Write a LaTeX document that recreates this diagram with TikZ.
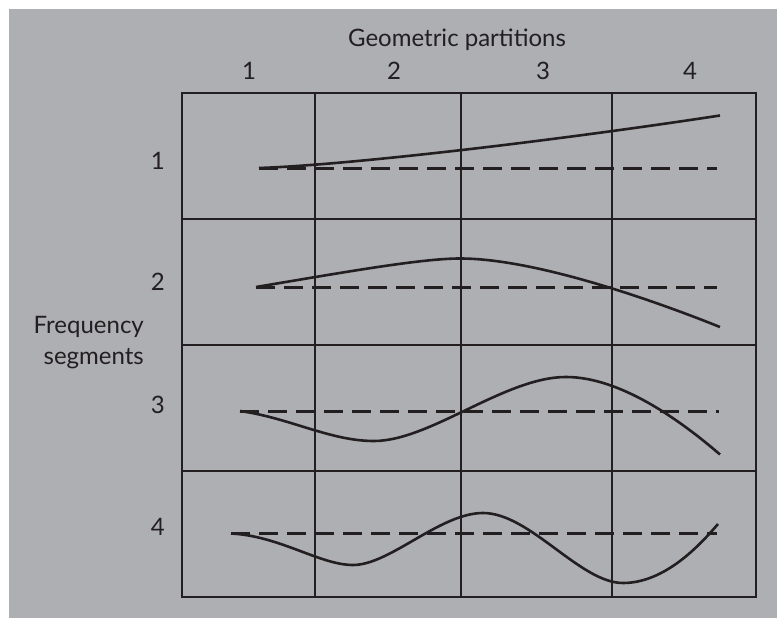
\documentclass[tikz,border=0pt]{standalone}
\usepackage{fontspec}
\setmainfont{Lato}
\usepackage{xcolor}
\usepackage{tikz}
\definecolor{panelgray}{RGB}{174,175,179}
\definecolor{ink}{RGB}{35,31,32}

\begin{document}
\begin{tikzpicture}[
x=1pt, y=-1pt,
lbl/.style={text=ink, inner sep=0pt, font=\fontsize{24}{31}\selectfont},
grid/.style={draw=ink, line width=2.4pt},
curve/.style={draw=ink, line width=2.6pt},
base/.style={draw=ink, line width=3pt, dash pattern=on 19pt off 9pt}
]
\useasboundingbox (0,0) rectangle (777,618);
\fill[white] (0,0) rectangle (777,618);
\fill[panelgray] (9,9) rectangle (777,618);

% frame and cells
\draw[grid] (182,93) rectangle (756,597);
\draw[grid] (315,93) -- (315,597);
\draw[grid] (461,93) -- (461,597);
\draw[grid] (612,93) -- (612,597);
\draw[grid] (182,219) -- (756,219);
\draw[grid] (182,345) -- (756,345);
\draw[grid] (182,471) -- (756,471);

% headings
\node[lbl] (geo) at (457,40) {Geometric partitions};
\node[lbl] (c1) at (249,71) {1};
\node[lbl] (c2) at (394,71) {2};
\node[lbl] (c3) at (543,71) {3};
\node[lbl] (c4) at (690,71) {4};
\node[lbl, anchor=east] (r1) at (165,161) {1};
\node[lbl, anchor=east] (r2) at (165,282) {2};
\node[lbl, anchor=east] (r3) at (165,405) {3};
\node[lbl, anchor=east] (r4) at (165,527) {4};
\node[lbl, anchor=east, align=right] (freq) at (144,343) {Frequency\\segments};

% reference levels
\draw[base] (259,168) -- (717,168);
\draw[base] (256,287) -- (717,287);
\draw[base] (240,411) -- (719,411);
\draw[base] (231,533.5) -- (717,533.5);

% waves
\draw[curve] (259,168) .. controls (350,165) and (560,140) .. (720,115.5);
\draw[curve] (256,287) .. controls (340,273) and (420,258.5) .. (460,258.5)
  .. controls (530,258.5) and (640,295) .. (720,327);
\draw[curve] (240,411) .. controls (290,418) and (330,441) .. (374,441)
  .. controls (430,441) and (505,377) .. (566,377)
  .. controls (620,377) and (680,420) .. (720,454.5);
\draw[curve] (231,533.5) .. controls (280,536) and (320,565) .. (353,565)
  .. controls (390,565) and (440,513) .. (483,513)
  .. controls (530,513) and (580,583) .. (623,583)
  .. controls (665,583) and (700,545) .. (718,524);
\end{tikzpicture}
\end{document}
